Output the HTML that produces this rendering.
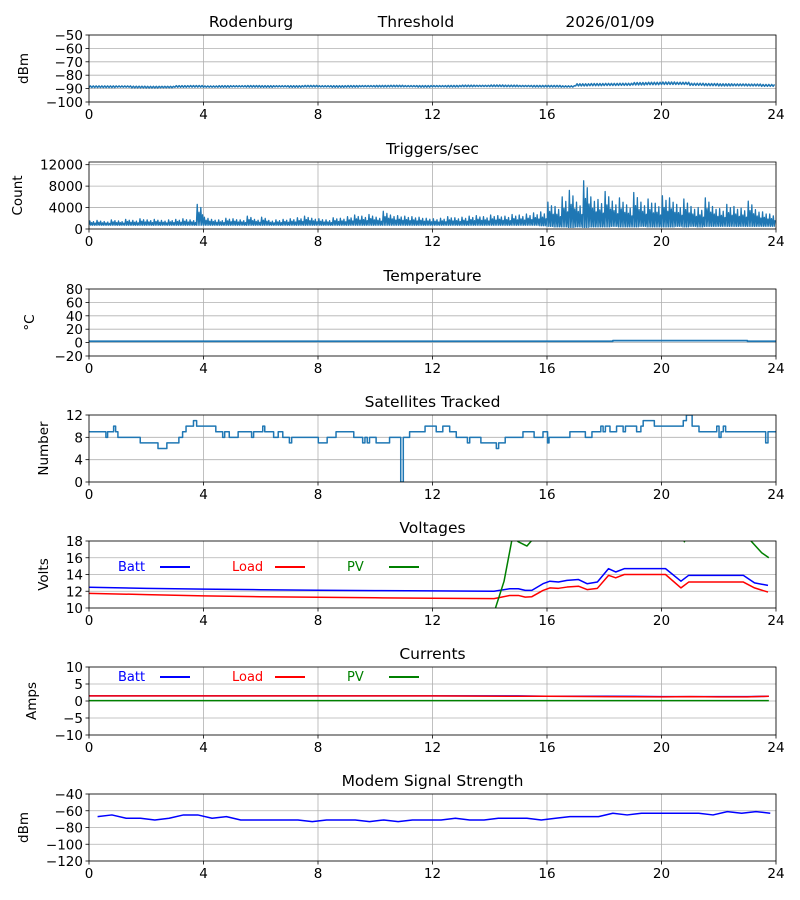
<!DOCTYPE html>
<html><head><meta charset="utf-8"><style>
html,body{margin:0;padding:0;background:#fff;}
svg{display:block;font-family:"DejaVu Sans","Liberation Sans",sans-serif;}
</style></head><body>
<svg id="fig" width="800" height="900" viewBox="0 0 800 900" xmlns="http://www.w3.org/2000/svg">
<rect width="800" height="900" fill="#fff"/>
<text x="251" y="27" font-size="15.5" text-anchor="middle">Rodenburg</text>
<text x="416" y="27" font-size="15.5" text-anchor="middle">Threshold</text>
<text x="610" y="27" font-size="15.5" text-anchor="middle">2026/01/09</text>
</svg>
<script>
// ---- data ----
const xTicks = [0,4,8,12,16,20,24];
const dbmMean = [-88.6,-88.6,-88.5,-88.8,-88.9,-88.8,-88.4,-88.3,-88.5,-88.4,-88.3,-88.3,-88.4,-88.3,-88.4,-88.2,-88.3,-88.4,-88.3,-88.2,-88.2,-88.1,-88.2,-88.3,-88.2,-88.2,-88.0,-88.0,-87.9,-88.0,-88.1,-88.2,-88.2,-88.4,-87.2,-87.0,-86.9,-86.8,-86.4,-86.2,-86.0,-86.1,-86.8,-87.0,-87.2,-87.2,-87.3,-87.6];
const dbmSpread = [0.6,0.6,0.5,0.6,0.6,0.5,0.6,0.6,0.5,0.6,0.5,0.6,0.6,0.5,0.6,0.6,0.5,0.6,0.6,0.5,0.6,0.6,0.5,0.6,0.5,0.6,0.6,0.5,0.6,0.6,0.5,0.6,0.6,0.5,0.8,0.8,0.8,0.8,0.9,0.9,0.9,0.8,0.8,0.8,0.8,0.7,0.7,0.7];
const trigHigh = [1500,1600,1400,1700,1500,1800,1600,1900,1700,1800,1600,1700,1800,1900,1700,4600,
 2200,1800,1700,2000,1900,1700,2400,1800,2200,1600,1700,1800,1900,2100,2400,2000,
 1900,1700,2100,2000,2300,2600,2400,2700,2200,3300,2600,2500,2400,2300,2200,2000,
 1900,2000,2300,2100,2200,2400,2500,2300,2600,2500,2400,2700,2600,2800,3000,3200,
 5000,4200,6000,7200,5000,9000,6000,5500,7000,5200,5800,4500,6800,5000,5600,4800,
 6200,5800,4600,5600,4200,4000,5800,4200,3800,4600,4200,3900,5200,3600,3200,2800];
const trigLow = [700,700,700,700,700,700,700,700,700,700,700,700,700,700,700,700,
 700,700,700,700,700,700,700,700,700,700,700,700,700,700,700,700,
 700,700,700,700,700,700,700,700,700,700,700,700,700,700,700,700,
 700,700,700,700,700,700,700,700,700,700,700,700,700,700,700,600,
 500,400,400,300,400,300,400,400,400,500,400,400,400,500,400,400,
 400,400,500,400,500,400,500,500,500,500,500,500,500,500,500,500];
const tempTimes = [0,18.3,18.3,23.0,23.0,24];
const tempVals = [2,2,3,3,2,2];
const satTimes = [0,0.59,0.65,0.86,0.93,1.01,1.79,2.41,2.72,3.14,3.27,3.39,3.65,3.76,4.43,4.67,4.74,4.90,5.21,5.68,5.75,6.07,6.14,6.45,6.61,6.77,7.0,7.08,8.01,8.32,8.63,9.25,9.56,9.64,9.72,9.80,10.03,10.50,10.89,10.98,11.20,11.74,12.13,12.36,12.60,12.83,13.22,13.30,13.69,14.23,14.31,14.54,15.16,15.55,15.86,16.02,16.07,16.80,17.34,17.57,17.88,17.96,18.04,18.20,18.43,18.66,18.74,19.13,19.28,19.36,19.75,20.76,20.87,21.07,21.31,21.93,22.01,22.08,22.16,22.24,23.64,23.72,24];
const satVals = [9,8,9,10,9,8,7,6,7,8,9,10,11,10,9,8,9,8,9,8,9,10,9,8,9,8,7,8,7,8,9,8,7,8,7,8,7,8,0,8,9,10,9,10,9,8,7,8,7,6,7,8,9,8,9,7,8,9,8,9,10,9,10,9,10,9,10,9,10,11,10,11,12,10,9,10,8,9,10,9,7,9,9];
const voltTimes = [0,2,4,6,8,10,12,14.15,14.7,15.0,15.24,15.47,15.86,16.1,16.4,16.7,17.1,17.4,17.76,18.15,18.4,18.7,20.14,20.68,20.95,22.86,23.25,23.72];
const battV = [12.48,12.35,12.25,12.18,12.12,12.08,12.04,12.0,12.3,12.3,12.1,12.1,12.9,13.2,13.1,13.3,13.4,12.9,13.1,14.7,14.3,14.7,14.7,13.2,13.9,13.9,13.0,12.7];
const loadV = [11.75,11.6,11.45,11.35,11.28,11.22,11.17,11.12,11.5,11.5,11.3,11.35,12.1,12.4,12.35,12.5,12.6,12.2,12.35,13.9,13.6,14.0,14.0,12.4,13.1,13.1,12.4,11.9];
const pvTimes = [14.2,14.5,14.8,15.0,15.3,15.6,20.7,20.8,20.9,23.1,23.5,23.75];
const pvV = [10,13.2,18.6,17.9,17.4,18.6,19,17.9,19,18.1,16.6,16.0];
const curTimes = [0,4,8,12,15,16,18,20,21,22,23,23.75];
const battA = [1.5,1.5,1.5,1.5,1.5,1.4,1.4,1.3,1.3,1.3,1.3,1.4];
const loadA = [1.5,1.5,1.5,1.5,1.4,1.4,1.3,1.2,1.3,1.2,1.2,1.4];
const pvA = [0.1,0.1,0.1,0.1,0.1,0.1,0.1,0.1,0.1,0.1,0.1,0.1];
const modemTimes = [0.3,0.8,1.3,1.8,2.3,2.8,3.3,3.8,4.3,4.8,5.3,5.8,6.3,6.8,7.3,7.8,8.3,8.8,9.3,9.8,10.3,10.8,11.3,11.8,12.3,12.8,13.3,13.8,14.3,14.8,15.3,15.8,16.3,16.8,17.3,17.8,18.3,18.8,19.3,19.8,20.3,20.8,21.3,21.8,22.3,22.8,23.3,23.8];
const modemVals = [-67,-65,-69,-69,-71,-69,-65,-65,-69,-67,-71,-71,-71,-71,-71,-73,-71,-71,-71,-73,-71,-73,-71,-71,-71,-69,-71,-71,-69,-69,-69,-71,-69,-67,-67,-67,-63,-65,-63,-63,-63,-63,-63,-65,-61,-63,-61,-63];

// ---- drawing ----
const svg = document.getElementById('fig');
const NS = 'http://www.w3.org/2000/svg';
const L = 89, R = 776;
function mk(tag, attrs, parent){const e=document.createElementNS(NS,tag);for(const k in attrs)e.setAttribute(k,attrs[k]);(parent||svg).appendChild(e);return e;}
function fmt(v){return v<0?'\u2212'+Math.abs(v):String(v);}
const panels = [];
function panel(id, top, bot, ymin, ymax, yticks, title, ylabel, ylx){
  const g = mk('g',{});
  
  
  const x = t => L + (t/24)*(R-L);
  const y = v => bot - (v-ymin)/(ymax-ymin)*(bot-top);
  const clip = mk('clipPath',{id:'clip-'+id}, g);
  mk('rect',{x:L,y:top,width:R-L,height:bot-top}, clip);
  xTicks.forEach(t=>{
    const gl = mk('line',{x1:x(t),x2:x(t),y1:top,y2:bot,stroke:'#b0b0b0','stroke-width':0.8}, g);
    
    
    mk('line',{x1:x(t),x2:x(t),y1:bot,y2:bot+3.5,stroke:'#000','stroke-width':0.8}, g);
    const tl = mk('text',{x:x(t),y:bot+17,'font-size':13.5,'text-anchor':'middle'}, g);
    tl.textContent = String(t);
    
    
  });
  yticks.forEach(v=>{
    const gl = mk('line',{x1:L,x2:R,y1:y(v),y2:y(v),stroke:'#b0b0b0','stroke-width':0.8}, g);
    
    
    mk('line',{x1:L-3.5,x2:L,y1:y(v),y2:y(v),stroke:'#000','stroke-width':0.8}, g);
    const tl = mk('text',{x:L-6,y:y(v)+5,'font-size':13.5,'text-anchor':'end'}, g);
    tl.textContent = fmt(v);
    
    
  });
  const plot = mk('g',{'clip-path':'url(#clip-'+id+')'}, g);
  const frame = mk('rect',{x:L,y:top,width:R-L,height:bot-top,fill:'none',stroke:'#000','stroke-width':0.8}, g);
  
  
  if(title){
    const tt = mk('text',{x:(L+R)/2,y:top-8,'font-size':15.5,'text-anchor':'middle'}, g);
    tt.textContent = title;
    
    
  }
  const cy=(top+bot)/2;
  const yl = mk('text',{x:ylx,y:cy,'font-size':13.5,'text-anchor':'middle',transform:'rotate(-90 '+ylx+' '+cy+')'}, g);
  yl.textContent = ylabel;
  
  
  return {x,y,plot,g};
}
function line(p, ts, vs, color, name, w){
  const d = ts.map((t,i)=>(i?'L':'M')+p.x(t).toFixed(2)+' '+p.y(vs[i]).toFixed(2)).join(' ');
  const e = mk('path',{d:d,fill:'none',stroke:color,'stroke-width':w||1.5,'stroke-linejoin':'round'}, p.plot);
  
  
  return e;
}
function stepLine(p, ts, vs, color, name){
  const pts=[];
  for(let i=0;i<ts.length;i++){ if(i>0) pts.push([ts[i],vs[i-1]]); pts.push([ts[i],vs[i]]); }
  line(p, pts.map(a=>a[0]), pts.map(a=>a[1]), color, name);
}
function legend(p, yy){
  const items=[['Batt','#0000ff',118,160],['Load','#ff0000',232,275],['PV','#008000',347,389]];
  items.forEach(it=>{
    const t = mk('text',{x:it[2],y:yy+5,'font-size':13,fill:it[1]}, p.g);
    t.textContent = it[0];
    
    
    const l = mk('line',{x1:it[3],x2:it[3]+30,y1:yy+1,y2:yy+1,stroke:it[1],'stroke-width':2}, p.g);
    
    
  });
}

// Panel 1: threshold dBm
const p1 = panel('threshold',35,102,-100,-50,[-50,-60,-70,-80,-90,-100],null,'dBm',28);
(function(){
  const ts=[],vs=[];
  for(let i=0;i<dbmMean.length;i++){
    for(let k=0;k<10;k++){ ts.push(i*0.5+k*0.05); vs.push(dbmMean[i]+(k%2?dbmSpread[i]:-dbmSpread[i])); }
  }
  line(p1,ts,vs,'#1f77b4','threshold-line',1.5);
})();

// Panel 2: triggers
const p2 = panel('triggers',162,229,0,12500,[0,4000,8000,12000],'Triggers/sec','Count',22);
(function(){
  const mult=[1,0.62,0.85,0.5];
  const ts=[],vs=[];
  for(let i=0;i<trigHigh.length;i++){
    for(let k=0;k<4;k++){
      ts.push(i*0.25+k*0.0625); vs.push(trigLow[i]);
      ts.push(i*0.25+k*0.0625+0.031); vs.push(trigLow[i]+(trigHigh[i]-trigLow[i])*mult[k]);
    }
  }
  line(p2,ts,vs,'#1f77b4','triggers-line',1.3);
})();

// Panel 3: temperature
const p3 = panel('temperature',289,356,-20,80,[-20,0,20,40,60,80],'Temperature','\u00b0C',34);
line(p3,tempTimes,tempVals,'#1f77b4','temperature-line',1.8);

// Panel 4: satellites
const p4 = panel('satellites',415,482,0,12,[0,4,8,12],'Satellites Tracked','Number',48);
stepLine(p4,satTimes,satVals,'#1f77b4','satellites-line');

// Panel 5: voltages
const p5 = panel('voltages',541,608,10,18,[10,12,14,16,18],'Voltages','Volts',48);
line(p5,voltTimes,battV,'#0000ff','batt-voltage-line');
line(p5,voltTimes,loadV,'#ff0000','load-voltage-line');
line(p5,pvTimes,pvV,'#008000','pv-voltage-line');
legend(p5,566);

// Panel 6: currents
const p6 = panel('currents',667,735,-10,10,[-10,-5,0,5,10],'Currents','Amps',36);
line(p6,curTimes,battA,'#0000ff','batt-current-line');
line(p6,curTimes,loadA,'#ff0000','load-current-line');
line(p6,curTimes,pvA,'#008000','pv-current-line');
legend(p6,676);

// Panel 7: modem
const p7 = panel('modem',794,861,-120,-40,[-40,-60,-80,-100,-120],'Modem Signal Strength','dBm',28);
line(p7,modemTimes,modemVals,'#0000ff','modem-signal-line');
</script>
</body></html>
